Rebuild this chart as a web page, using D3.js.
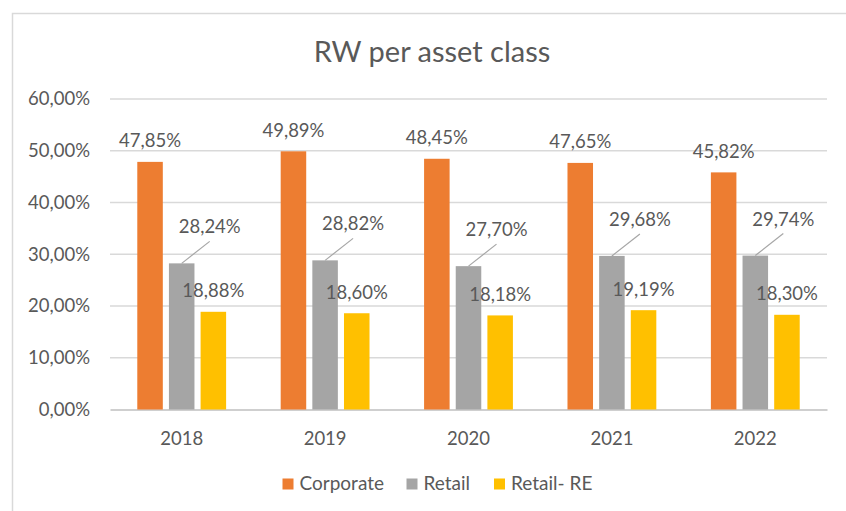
<!DOCTYPE html>
<html>
<head>
<meta charset="utf-8">
<script src="https://cdnjs.cloudflare.com/ajax/libs/d3/7.8.5/d3.min.js"></script>
<style>
  body { margin: 0; background: #fff; }
  text { font-family: Lato, "Open Sans", sans-serif; fill: #595959; }
</style>
</head>
<body>
<svg width="846" height="511"></svg>
<script>
var years = ["2018", "2019", "2020", "2021", "2022"];
var seriesNames = ["Corporate", "Retail", "Retail- RE"];
var corporate = [0.4785, 0.4989, 0.4845, 0.4765, 0.4582];
var retail = [0.2824, 0.2882, 0.2770, 0.2968, 0.2974];
var retailRE = [0.1888, 0.1860, 0.1818, 0.1919, 0.1830];
var yTicks = [0, 0.1, 0.2, 0.3, 0.4, 0.5, 0.6];
var colors = ["#ED7D31", "#A5A5A5", "#FFC000"];

window.addEventListener("load", main);

function main() {
  var svg = d3.select("svg");
  var series = [corporate, retail, retailRE];

  var locale = d3.formatLocale({ decimal: ",", thousands: ".", grouping: [3], currency: ["", "€"] });
  var pct = locale.format(".2%");

  var x = d3.scaleBand().domain(years).range([110, 827]);
  var y = d3.scaleLinear().domain([0, 0.6]).range([409.5, 99]);

  var barW = x.bandwidth() * 0.178;
  var step = barW * 1.24;
  var xs = d3.scaleBand().domain(seriesNames).range([0, step * 3]);

  // chart border (top and left visible)
  svg.append("path")
    .attr("d", "M12.5,511 V13.5 H846")
    .attr("fill", "none")
    .attr("stroke", "#D9D9D9")
    .attr("stroke-width", 1.5);

  svg.append("text")
    .attr("x", 432)
    .attr("y", 62)
    .attr("text-anchor", "middle")
    .style("font-size", "29px")
    .text("RW per asset class");

  // gridlines
  svg.append("g")
    .selectAll("line")
    .data(yTicks.slice(1))
    .enter().append("line")
    .attr("x1", 110)
    .attr("x2", 827)
    .attr("y1", function(d) { return y(d); })
    .attr("y2", function(d) { return y(d); })
    .attr("stroke", "#D9D9D9")
    .attr("stroke-width", 1.5);

  var yAxis = svg.append("g")
    .attr("transform", "translate(96,0)")
    .call(d3.axisLeft(y).tickValues(yTicks).tickFormat(pct).tickSize(0).tickPadding(6));
  yAxis.select(".domain").remove();
  yAxis.selectAll("text")
    .attr("fill", "#595959")
    .style("font-size", "18.5px")
    .style("font-family", "Lato, sans-serif");

  var xAxis = svg.append("g")
    .attr("transform", "translate(0,409.5)")
    .call(d3.axisBottom(x).tickSize(0).tickPadding(22));
  xAxis.select(".domain")
    .attr("stroke", "#BFBFBF")
    .attr("stroke-width", 1.5);
  xAxis.selectAll("text")
    .attr("fill", "#595959")
    .style("font-size", "18.5px")
    .style("font-family", "Lato, sans-serif");

  var groups = svg.append("g")
    .selectAll("g")
    .data(series)
    .enter().append("g")
    .attr("fill", function(d, i) { return colors[i]; });

  groups.selectAll("rect")
    .data(function(d, i) {
      return d.map(function(v, j) { return { s: i, year: years[j], value: v }; });
    })
    .enter().append("rect")
    .attr("x", function(d) { return barX(d) - barW / 2; })
    .attr("y", function(d) { return y(d.value); })
    .attr("width", barW)
    .attr("height", function(d) { return y(0) - y(d.value); });

  var points = [];
  series.forEach(function(vals, i) {
    vals.forEach(function(v, j) { points.push({ s: i, year: years[j], value: v }); });
  });

  // leader lines for the moved Retail labels
  svg.append("g")
    .selectAll("line")
    .data(points.filter(function(d) { return d.s == 1; }))
    .enter().append("line")
    .attr("x1", function(d) { return barX(d); })
    .attr("y1", function(d) { return y(d.value); })
    .attr("x2", function(d) { return barX(d) + 28; })
    .attr("y2", function(d) { return y(d.value) - 22; })
    .attr("stroke", "#A6A6A6")
    .attr("stroke-width", 1.2);

  svg.append("g")
    .selectAll("text")
    .data(points)
    .enter().append("text")
    .attr("text-anchor", "middle")
    .style("font-size", "18.5px")
    .attr("x", function(d) { return d.s == 1 ? barX(d) + 28 : barX(d); })
    .attr("y", function(d) { return d.s == 1 ? y(d.value) - 30 : y(d.value) - 14.5; })
    .text(function(d) { return pct(d.value); });

  // legend
  var legendX = [282.5, 406.5, 494];
  var legend = svg.append("g")
    .selectAll("g")
    .data(seriesNames)
    .enter().append("g")
    .attr("transform", function(d, i) { return "translate(" + legendX[i] + ",478.5)"; });

  legend.append("rect")
    .attr("width", 11)
    .attr("height", 11)
    .attr("fill", function(d, i) { return colors[i]; });

  legend.append("text")
    .attr("x", 17)
    .attr("y", 11.5)
    .style("font-size", "19px")
    .text(function(d) { return d; });

  function barX(d) {
    return x(d.year) + x.bandwidth() / 2 - step * 1.5 + xs(seriesNames[d.s]) + step / 2;
  }
}
</script>
</body>
</html>
